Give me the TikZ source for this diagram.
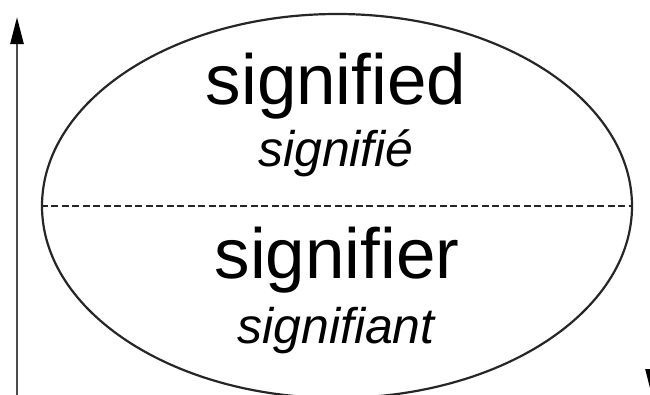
\documentclass[tikz,border=0pt]{standalone}
\usepackage{fontspec}
\setmainfont{Liberation Sans}
\usetikzlibrary{arrows.meta,shapes.geometric}
\begin{document}
\begin{tikzpicture}[x=1pt,y=-1pt,
  outline/.style={draw=black!85,line width=2.2pt},
  divider/.style={draw=black!85,line width=1.5pt,dash pattern=on 7pt off 3.5pt},
  axis/.style={draw=black!70,line width=2.6pt,-{Triangle[length=27pt,width=13pt,black]}},
  bigword/.style={anchor=base,inner sep=0pt,font=\fontsize{71}{80}\selectfont},
  smallword/.style={anchor=base,inner sep=0pt,font=\fontsize{50}{60}\selectfont\itshape}]
  \useasboundingbox (0,0) rectangle (650,394);
  \begin{scope}
    \clip (0,0) rectangle (650,394);
    % the sign: an ellipse split into two halves
    \node[outline,ellipse,minimum width=590pt,minimum height=384pt,inner sep=0pt] (sign) at (337,206) {};
    \draw[divider] (sign.west) -- (sign.east);
    % labels of the two halves
    \node[bigword] (sd) at (336,104) {signified};
    \node[smallword] (sde) at (336,166) {signifié};
    \node[bigword] (sr) at (337,278) {signifier};
    \node[smallword] (sre) at (336,343) {signifiant};
    % arrows on either side
    \coordinate (upfoot) at (17,400);
    \coordinate (uptip) at (17,17);
    \draw[axis] (upfoot) -- (uptip);
    \coordinate (downtop) at (652,330);
    \coordinate (downtip) at (652,396);
    \draw[axis] (downtop) -- (downtip);
  \end{scope}
\end{tikzpicture}
\end{document}
